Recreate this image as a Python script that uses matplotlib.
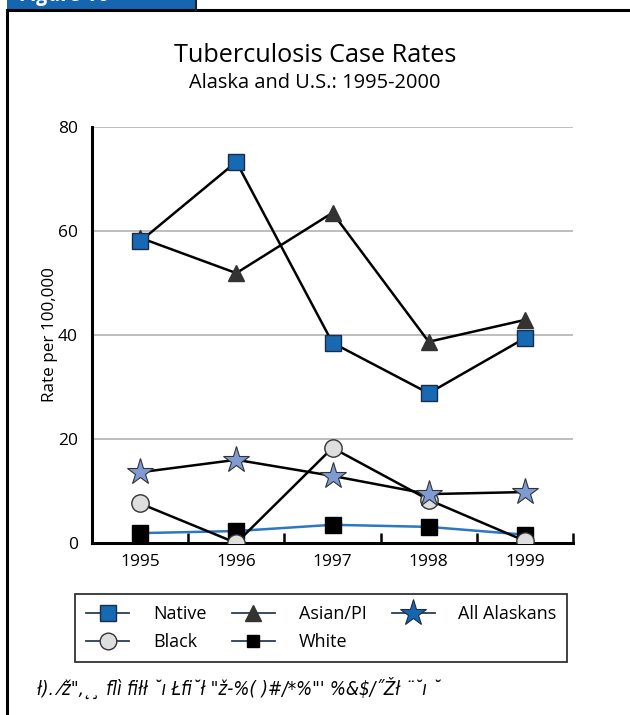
import matplotlib
matplotlib.use("Agg")
import matplotlib.pyplot as plt
from matplotlib.lines import Line2D
from matplotlib.patches import Rectangle

plt.rcParams['font.family'] = ['Open Sans', 'DejaVu Sans']

years = ['1995', '1996', '1997', '1998', '1999']
native = [58.0, 73.3, 38.5, 28.8, 39.4]
asian_pi = [58.7, 51.9, 63.5, 38.7, 42.9]
all_alaskans = [13.6, 16.0, 12.9, 9.4, 9.8]
black = [7.6, 0.0, 18.3, 8.3, 0.4]
white = [1.9, 2.3, 3.5, 3.1, 1.6]
yticks = [0, 20, 40, 60, 80]

BLUE = '#1769b4'
EDGE = '#1c2c44'
DARK = '#333333'
STAR = '#7f9bd3'
GREY = '#dedede'

fig = plt.figure(figsize=(6.3, 7.15), dpi=100)

# page frame + tab
fig.add_artist(Line2D([7/630, 7/630], [0, 1-10/715], color='black', lw=2.2, transform=fig.transFigure))
fig.add_artist(Line2D([7/630, 1], [1-10/715, 1-10/715], color='black', lw=2.2, transform=fig.transFigure))
fig.add_artist(Rectangle((7/630, 1-9/715), 188/630, 9/715, transform=fig.transFigure,
                         facecolor='#1565b0', edgecolor='none'))
fig.add_artist(Line2D([196/630, 196/630], [1-10/715, 1], color='#222222', lw=1.5, transform=fig.transFigure))
fig.text(20/630, 1-1.5/715, 'Figure 16', color='white', fontsize=15, fontweight='bold',
         fontstyle='italic', ha='left', va='baseline')

fig.text(0.5, 1-55/715, 'Tuberculosis Case Rates', ha='center', va='center', fontsize=18.2)
fig.text(0.5, 1-83/715, 'Alaska and U.S.: 1995-2000', ha='center', va='center', fontsize=14.4)

ax = fig.add_axes([92/630, 1-543/715, (573-92)/630, (543-127)/715])
x = list(range(1, len(years) + 1))

ax.plot(x, white, color='#2a78c2', lw=1.8, marker='s', ms=11.5, mfc='black', mec='black', zorder=3)
ax.plot(x, black, color='black', lw=1.8, marker='o', ms=12.5, mfc=GREY, mec=DARK, mew=1, zorder=4)
ax.plot(x, all_alaskans, color='black', lw=1.8, marker='*', ms=20, mfc=STAR, mec=DARK, mew=0.8, zorder=5)
ax.plot(x, asian_pi, color='black', lw=1.8, marker='^', ms=12, mfc=DARK, mec=DARK, zorder=6)
ax.plot(x, native, color='black', lw=1.8, marker='s', ms=11.5, mfc=BLUE, mec=EDGE, mew=1, zorder=7)

ax.set_xlim(0.5, len(years) + 0.5)
ax.set_ylim(0, 80)
ax.set_yticks(yticks)
ax.set_yticklabels([str(v) for v in yticks], fontsize=12.5)
ax.yaxis.grid(True, color='#b3b3b3', lw=1.2)
ax.set_axisbelow(True)
ax.tick_params(axis='y', length=0, pad=10)

ax.set_xticks(x)
ax.set_xticklabels(years, fontsize=12.5)
ax.tick_params(axis='x', length=0, pad=8)
ax.set_xticks([i + 0.5 for i in x], minor=True)
ax.tick_params(axis='x', which='minor', direction='in', length=7, width=1.8, color='black')

for s in ['top', 'right']:
    ax.spines[s].set_visible(False)
for s in ['left', 'bottom']:
    ax.spines[s].set_linewidth(2.2)
ax.set_ylabel('Rate per 100,000', fontsize=12.3, labelpad=0)

LEG = '#2b3d55'
handles = [
    Line2D([], [], color=LEG, lw=1.3, marker='s', ms=11, mfc=BLUE, mec=EDGE),
    Line2D([], [], color=LEG, lw=1.3, marker='o', ms=12, mfc=GREY, mec=DARK),
    Line2D([], [], color=LEG, lw=1.3, marker='^', ms=12, mfc=DARK, mec=DARK),
    Line2D([], [], color=LEG, lw=1.3, marker='s', ms=8.5, mfc='black', mec='black'),
    Line2D([], [], color=LEG, lw=1.3, marker='*', ms=20, mfc='#1565b0', mec=EDGE, mew=0.8),
]
labels = ['Native', 'Black', 'Asian/PI', 'White', 'All Alaskans']
leg = fig.legend(handles, labels, ncol=3, loc='center',
                 bbox_to_anchor=((75.7+567)/2/630, 1-628/715), fontsize=13,
                 frameon=True, fancybox=False, edgecolor='black', handlelength=2.4,
                 handletextpad=1.3, columnspacing=1.4, labelspacing=0.55,
                 borderpad=0.6, borderaxespad=0)
leg.get_frame().set_linewidth(1.3)

fig.text(37/630, 1-688/715, 'ł). ⁄ž",˛¸ ﬂì ﬁłł ˘ı Łﬁ˘ł "ž-%( )#/*%"\' %&$/˝Žł ¨˘ı ˘',
         fontsize=13.5, fontstyle='italic', ha='left', va='center', family=['DejaVu Sans'],
         fontstretch='condensed')

fig.savefig('out.png', dpi=100)
